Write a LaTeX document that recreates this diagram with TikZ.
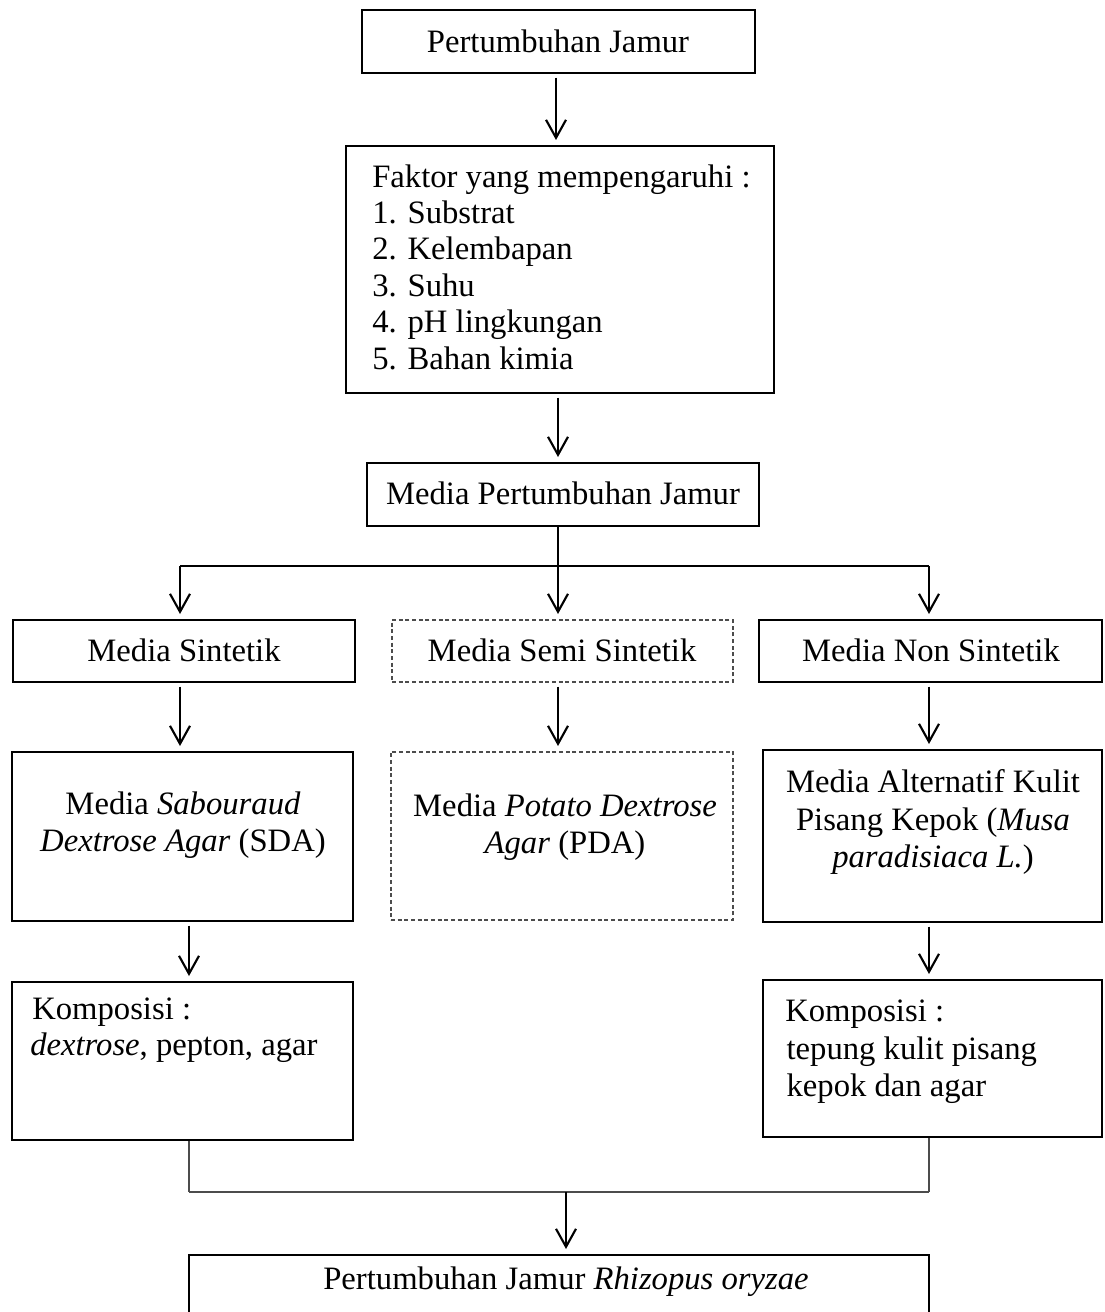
\documentclass[tikz,border=0pt]{standalone}
\usepackage{fontspec}
\setmainfont{Liberation Serif}
\usetikzlibrary{arrows.meta}
\begin{document}
\begin{tikzpicture}[x=0.75pt,y=-0.75pt,
  sz/.style 2 args={minimum width=#1*0.75pt, minimum height=#2*0.75pt},
  box/.style={draw, line width=1pt, inner sep=0pt},
  dbox/.style={box, draw=black!70, dash pattern=on 3pt off 2pt},
  txt/.style={font=\fontsize{24.5}{28}\selectfont, inner sep=0pt},
  arr/.style={-{Straight Barb[length=13.5pt,width=15pt]}, line width=1.6pt, shorten <=3pt, shorten >=4pt},
  ln/.style={line width=0.9pt},
  gln/.style={line width=0.9pt, draw=black!70},
  bar/.style={line width=2.2pt, draw=black!70}]
\clip (0,0) rectangle (1105,1312);
\fill[white] (0,0) rectangle (1105,1312);
% boxes
\node[box, sz={393}{63}] (b1) at (558.5,41.5) {};
\node[box, sz={428}{247}] (b2) at (560,269.5) {};
\node[box, sz={392}{63}] (b3) at (563,494.5) {};
\node[box, sz={342}{62}] (b4) at (184,651) {};
\node[dbox, sz={341}{62}] (b5) at (562.5,651) {};
\node[box, sz={343}{62}] (b6) at (930.5,651) {};
\node[box, sz={341}{169}] (b7) at (182.5,836.5) {};
\node[dbox, sz={342}{168}] (b8) at (562,836) {};
\node[box, sz={339}{172}] (b9) at (932.5,836) {};
\node[box, sz={341}{158}] (b10) at (182.5,1061) {};
\node[box, sz={339}{157}] (b11) at (932.5,1058.5) {};
\node[box, sz={740}{100}] (b12) at (559,1305) {};
% texts
\node[txt] (t1) at (558,41) {Pertumbuhan Jamur};
\node[txt, anchor=west, align=left, font=\fontsize{24.5}{27.3}\selectfont] (t2) at (372,267) {Faktor yang mempengaruhi :\\1. Substrat\\2. Kelembapan\\3. Suhu\\4. pH lingkungan\\5. Bahan kimia};
\node[txt] (t3) at (563,493) {Media Pertumbuhan Jamur};
\node[txt] (t4) at (184,650) {Media Sintetik};
\node[txt] (t5) at (562,650) {Media Semi Sintetik};
\node[txt] (t6) at (931,650) {Media Non Sintetik};
\node[txt, align=center] (t7) at (183,825) {Media \textit{Sabouraud}\\\textit{Dextrose Agar} (SDA)};
\node[txt, align=center] (t8) at (565,827) {Media \textit{Potato Dextrose}\\\textit{Agar} (PDA)};
\node[txt, align=center] (t9) at (933,822) {Media Alternatif Kulit\\Pisang Kepok (\textit{Musa}\\\textit{paradisiaca L.})};
\node[txt, anchor=west] (t10a) at (32,1012) {Komposisi :};
\node[txt, anchor=west] (t10b) at (30,1048) {\textit{dextrose}, pepton, agar};
\node[txt, anchor=west, align=left] (t11) at (785,1052) {Komposisi :\\\hspace{1pt}tepung kulit pisang\\\hspace{1pt}kepok dan agar};
\node[txt] (t12) at (566,1282) {Pertumbuhan Jamur \textit{Rhizopus oryzae}};
% connectors
\coordinate (jl) at (180,566);
\coordinate (jr) at (929,566);
\coordinate (ml) at (189,1192);
\coordinate (mr) at (929,1192);
\coordinate (mc) at (566,1192);
\coordinate (c1) at (556,0);
\coordinate (c2) at (558,0);
\draw[arr] (c1 |- b1.south) -- (c1 |- b2.north);
\draw[arr] (c2 |- b2.south) -- (c2 |- b3.north);
\draw[ln] (jl) -- (jr);
\draw[arr, shorten <=0pt] (c2 |- b3.south) -- (c2 |- b5.north);
\draw[arr, shorten <=0pt] (jl) -- (jl |- b4.north);
\draw[arr, shorten <=0pt] (jr) -- (jr |- b6.north);
\draw[arr] (jl |- b4.south) -- (jl |- b7.north);
\draw[arr] (c2 |- b5.south) -- (c2 |- b8.north);
\draw[arr] (jr |- b6.south) -- (jr |- b9.north);
\draw[arr] (ml |- b7.south) -- (ml |- b10.north);
\draw[arr] (mr |- b9.south) -- (mr |- b11.north);
\draw[gln] (ml |- b10.south) -- (ml);
\draw[gln] (mr |- b11.south) -- (mr);
\draw[bar] (ml) -- (mr);
\draw[arr, shorten <=0pt] (mc) -- (mc |- b12.north);
\end{tikzpicture}
\end{document}
